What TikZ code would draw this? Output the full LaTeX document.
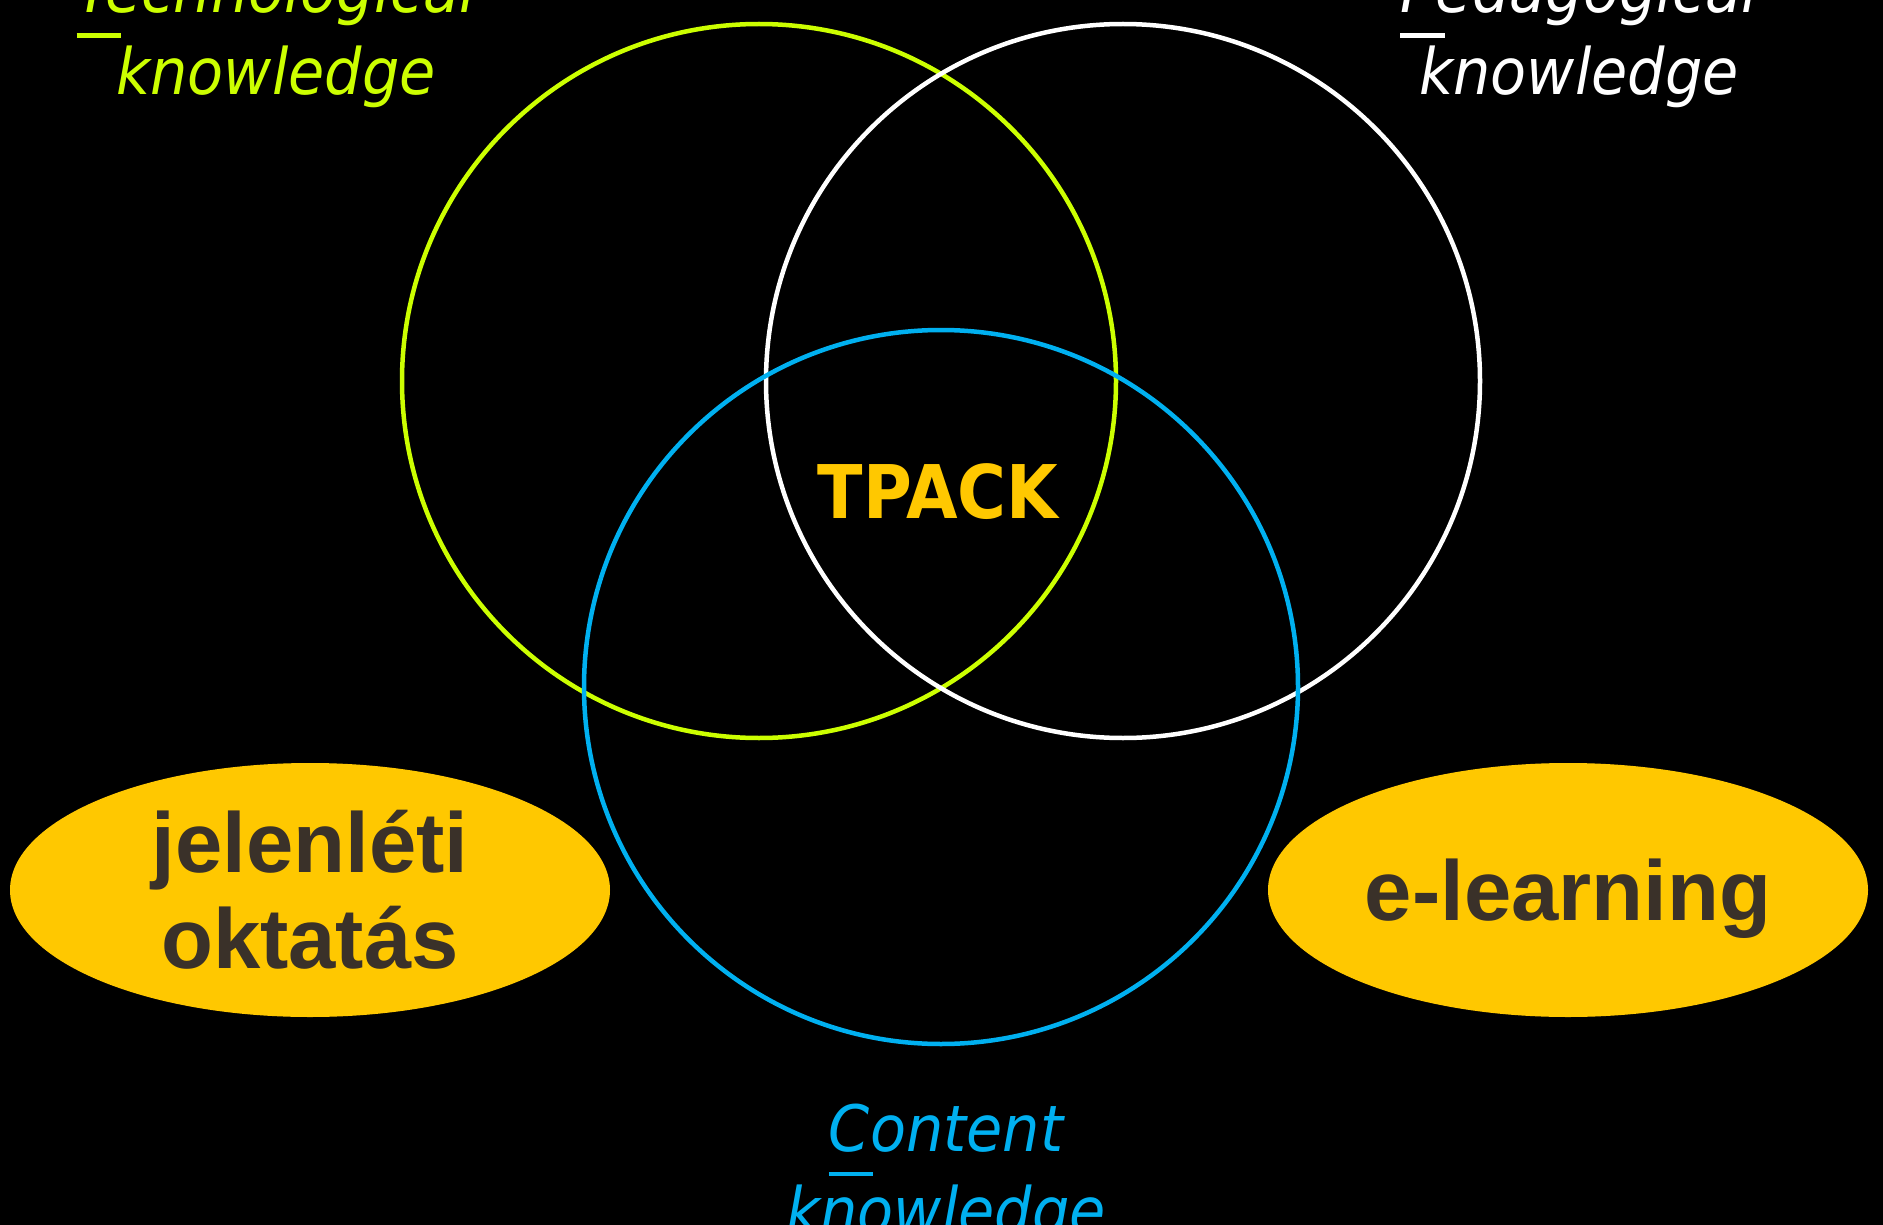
\documentclass[tikz,border=0pt]{standalone}
\usepackage{fontspec}
\setmainfont{DejaVu Sans}[ItalicFont={DejaVu Sans Oblique},BoldFont={DejaVu Sans Bold}]
\newfontfamily\arialfont{Liberation Sans}
\usetikzlibrary{shapes.geometric}
\newcommand{\ulfirst}[1]{\makebox[0pt][l]{\rule[-0.39em]{0.75em}{0.07em}}#1}
\begin{document}
\begin{tikzpicture}[x=1pt,y=-1pt,
  ring/.style={line width=4.5pt},
  kwlabel/.style={font=\itshape\fontsize{64}{82}\selectfont,align=center,inner sep=0pt,outer sep=0pt,xscale=0.92},
  blob/.style={ellipse,fill=blobColor,minimum width=600pt,minimum height=254pt,inner sep=0pt,
    text=blobText,font=\arialfont\bfseries\fontsize{85}{96}\selectfont,align=center}]
\definecolor{fillColor}{RGB}{0,0,0}
\definecolor{techColor}{RGB}{204,255,0}
\definecolor{pedColor}{RGB}{255,255,255}
\definecolor{contColor}{RGB}{0,176,240}
\definecolor{blobColor}{RGB}{255,200,0}
\definecolor{blobText}{RGB}{58,49,41}
\path[use as bounding box,fill=fillColor] (0,0) rectangle (1883,1225);

% the three knowledge circles
\path[draw=techColor,ring] (759,381) circle [radius=357pt];
\path[draw=pedColor,ring] (1123,381) circle [radius=357pt];
\path[draw=contColor,ring] (941,687) circle [radius=357pt];

\node[text=blobColor,inner sep=0pt,outer sep=0pt,xscale=0.9,text depth=0pt,
  font=\bfseries\fontsize{74}{80}\selectfont] (tpack) at (938,491) {TPACK};

% labels
\node[kwlabel,text=techColor] (tech) at (276,36) {\ulfirst{T}echnological\\knowledge};
\node[kwlabel,text=pedColor] (ped) at (1579,36) {\ulfirst{P}edagogical\\knowledge};
\node[kwlabel,text=contColor] (cont) at (946,1175) {\ulfirst{C}ontent\\knowledge};

% teaching forms
\node[blob] (jelen) at (310,890) {jelenléti\\oktatás};
\node[blob,text depth=0pt] (elearn) at (1568,890) {e-learning};
\end{tikzpicture}
\end{document}
